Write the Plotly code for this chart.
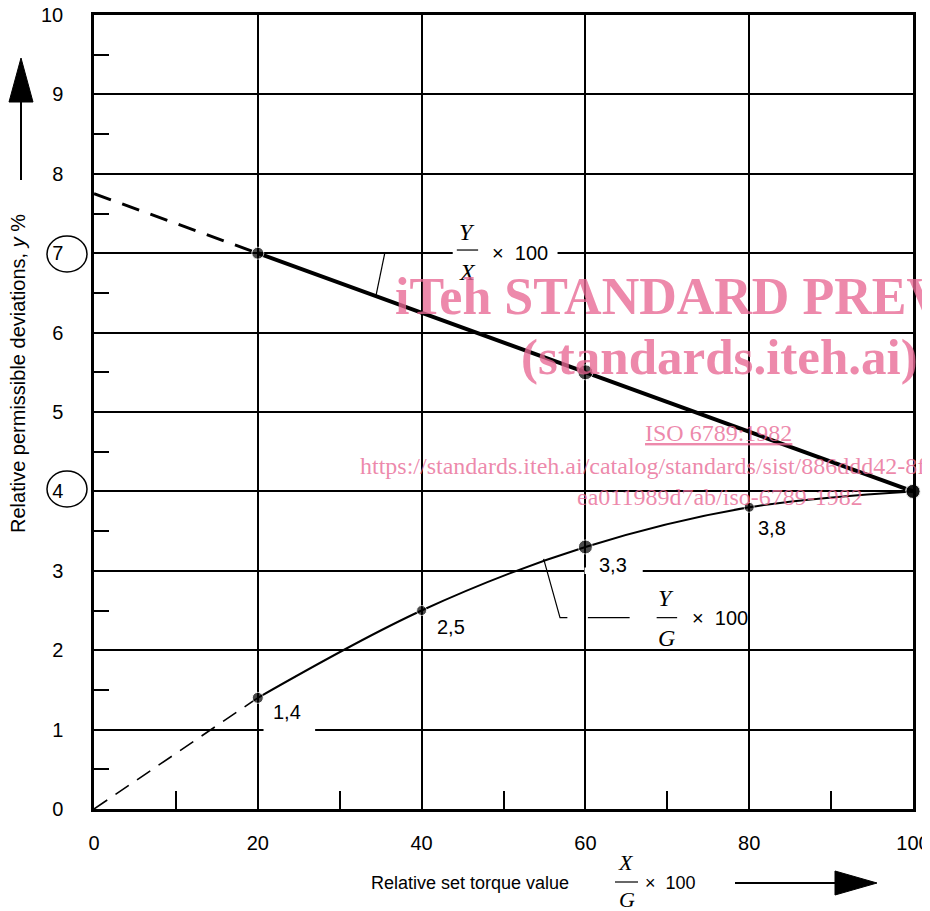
import plotly.graph_objects as go

# ---------------- data ----------------
x_ticks = [0, 20, 40, 60, 80, 100]
y_ticks = [0, 1, 2, 3, 4, 5, 6, 7, 8, 9, 10]
y_tick_text = ["0", "1", "2", "3", "4", "5", "6", "7", "8", "9", "10"]

yx_x = [20, 60, 100]          # Y/X x 100 line
yx_y = [7.0, 5.5, 4.0]
yx_ext_x = [0, 20]            # dashed extension
yx_ext_y = [7.75, 7.0]

yg_x = [20, 40, 60, 80, 100]  # Y/G x 100 curve
yg_y = [1.4, 2.5, 3.3, 3.8, 4.0]
yg_ext_x = [0, 20]
yg_ext_y = [0.0, 1.4]
yg_labels = ["1,4", "2,5", "3,3", "3,8"]

# page body has an 8px margin; figure sized to fit the window
OFF = 8
W, H = 930 - OFF, 911 - OFF
L, R, T, B = 94, 913, 15, 809   # plot area in window pixels


def px(xp):
    return (xp - L) / (R - L)


def py(yp):
    return (B - yp) / (B - T)


SANS = "Liberation Sans, Arial, sans-serif"
SERIF = "Liberation Serif, Times New Roman, serif"
PINK = "rgba(232,104,148,0.78)"

fig = go.Figure()

fig.add_trace(go.Scatter(x=yx_ext_x, y=yx_ext_y, mode="lines",
                         line=dict(color="black", width=3, dash="18px,12px"),
                         cliponaxis=False, hoverinfo="skip"))
fig.add_trace(go.Scatter(x=yx_x, y=yx_y, mode="lines+markers",
                         line=dict(color="black", width=4),
                         marker=dict(color="black", size=[12, 15, 15]),
                         cliponaxis=False, hoverinfo="skip"))
fig.add_trace(go.Scatter(x=yg_ext_x, y=yg_ext_y, mode="lines",
                         line=dict(color="black", width=1.6, dash="16px,10px"),
                         cliponaxis=False, hoverinfo="skip"))
fig.add_trace(go.Scatter(x=yg_x, y=yg_y, mode="lines+markers",
                         line=dict(color="black", width=2, shape="spline", smoothing=1.0),
                         marker=dict(color="black", size=[11, 10, 14, 10, 14]),
                         cliponaxis=False, hoverinfo="skip"))

shapes = []
# white gaps in grid lines
for x0, x1, yv in [(20.7, 27.0, 1.0), (59.9, 67.0, 3.0), (43.8, 56.6, 7.0)]:
    shapes.append(dict(type="rect", xref="x", yref="y", x0=x0, x1=x1,
                       y0=yv - 0.04, y1=yv + 0.04, fillcolor="white",
                       line=dict(width=0), layer="between"))
# leader lines
shapes.append(dict(type="line", xref="x", yref="y", x0=34.4, y0=6.45, x1=35.5, y1=7.0,
                   line=dict(color="black", width=1.2)))
shapes.append(dict(type="path", xref="x", yref="y",
                   path="M 54.9 3.15 L 56.9 2.41 L 57.8 2.41",
                   line=dict(color="black", width=1.2)))
shapes.append(dict(type="line", xref="x", yref="y", x0=60.3, y0=2.41, x1=65.4, y1=2.41,
                   line=dict(color="black", width=1.2)))
# fraction bars
shapes.append(dict(type="line", xref="x", yref="y", x0=44.3, y0=7.04, x1=46.9, y1=7.04,
                   line=dict(color="black", width=1.2)))
shapes.append(dict(type="line", xref="x", yref="y", x0=68.7, y0=2.41, x1=71.2, y1=2.41,
                   line=dict(color="black", width=1.2)))
shapes.append(dict(type="line", xref="paper", yref="paper", x0=px(615), y0=py(882),
                   x1=px(638), y1=py(882), line=dict(color="black", width=1.2)))
# circled tick labels
for cy in (254, 489):
    shapes.append(dict(type="circle", xref="paper", yref="paper",
                       x0=px(47), x1=px(87), y0=py(cy - 18), y1=py(cy + 18),
                       line=dict(color="black", width=1.5)))
# axis arrows
shapes.append(dict(type="line", xref="paper", yref="paper", x0=px(21), x1=px(21),
                   y0=py(180), y1=py(100), line=dict(color="black", width=2)))
shapes.append(dict(type="path", xref="paper", yref="paper",
                   path=f"M {px(21)} {py(58)} L {px(9)} {py(102)} L {px(33)} {py(102)} Z",
                   fillcolor="black", line=dict(color="black", width=1)))
shapes.append(dict(type="line", xref="paper", yref="paper", x0=px(735), x1=px(840),
                   y0=py(883), y1=py(883), line=dict(color="black", width=2)))
shapes.append(dict(type="path", xref="paper", yref="paper",
                   path=f"M {px(877)} {py(883)} L {px(835)} {py(871)} L {px(835)} {py(895)} Z",
                   fillcolor="black", line=dict(color="black", width=1)))

ann = []


def A(x, y, text, size, family=SANS, color="black", xref="paper", xanchor="center", **kw):
    d = dict(x=x, y=y, xref=xref, yref=xref.replace("x", "y") if xref != "paper" else "paper",
             text=text, showarrow=False, xanchor=xanchor, yanchor="middle",
             font=dict(family=family, size=size, color=color))
    d.update(kw)
    ann.append(d)


# point labels
for (lx, ly), t in zip([(23.6, 1.22), (43.6, 2.29), (63.4, 3.07), (82.8, 3.54)], yg_labels):
    A(lx, ly, t, 20, xref="x")
# Y/X x 100
A(45.6, 7.27, "<i>Y</i>", 24, SERIF, xref="x")
A(45.6, 6.76, "<i>X</i>", 24, SERIF, xref="x")
A(52.0, 7.0, "×  100", 20, xref="x")
# Y/G x 100
A(69.9, 2.66, "<i>Y</i>", 24, SERIF, xref="x")
A(69.9, 2.16, "<i>G</i>", 24, SERIF, xref="x")
A(76.4, 2.41, "×  100", 20, xref="x")
# axis titles
A(px(18), py(374), "Relative permissible deviations, <i>y</i> %", 20, textangle=-90)
A(px(470), py(883), "Relative set torque value", 18)
A(px(626), py(862), "<i>X</i>", 22, SERIF)
A(px(627), py(899), "<i>G</i>", 22, SERIF)
A(px(670), py(883), "×  100", 18)
# watermark
A(px(393), py(296), "<b>iTeh STANDARD PREVIEW</b>", 52, SERIF, PINK, xanchor="left")
A(px(719), py(357), "<b>(standards.iteh.ai)</b>", 51, SERIF, PINK)
A(px(718), py(433), "<u>ISO 6789:1982</u>", 24, SERIF, PINK)
A(px(358), py(466), "https://standards.iteh.ai/catalog/standards/sist/886ddd42-8fc6",
  24, SERIF, PINK, xanchor="left")
A(px(720), py(497), "ea011989d7ab/iso-6789-1982", 24, SERIF, PINK)

fig.update_layout(
    width=W, height=H,
    margin=dict(l=L - OFF, r=W - (R - OFF), t=T - OFF, b=H - (B - OFF), pad=0,
                autoexpand=False),
    paper_bgcolor="white", plot_bgcolor="white",
    showlegend=False,
    shapes=shapes, annotations=ann,
    font=dict(family=SANS, color="black"),
)
fig.update_xaxes(range=[0, 100], tickvals=x_ticks, ticktext=[str(v) for v in x_ticks],
                 automargin=False, ticklabeloverflow="allow",
                 showgrid=True, gridcolor="black", gridwidth=1.5,
                 showline=True, linecolor="black", linewidth=2.5, mirror=True,
                 ticks="", ticklabelstandoff=14, zeroline=False,
                 tickfont=dict(family=SANS, size=20, color="black"),
                 minor=dict(tickvals=[10, 30, 50, 70, 90], ticks="inside", ticklen=18,
                            tickwidth=1.5, tickcolor="black", showgrid=False))
fig.update_yaxes(range=[0, 10], tickvals=y_ticks, ticktext=y_tick_text,
                 automargin=False, ticklabeloverflow="allow",
                 showgrid=True, gridcolor="black", gridwidth=1.5,
                 showline=True, linecolor="black", linewidth=2.5, mirror=True,
                 ticks="", ticklabelstandoff=24, zeroline=False,
                 tickfont=dict(family=SANS, size=20, color="black"),
                 minor=dict(tickvals=[0.5 + i for i in range(10)], ticks="inside", ticklen=15,
                            tickwidth=1.5, tickcolor="black", showgrid=False))

fig.write_html("out.html")
